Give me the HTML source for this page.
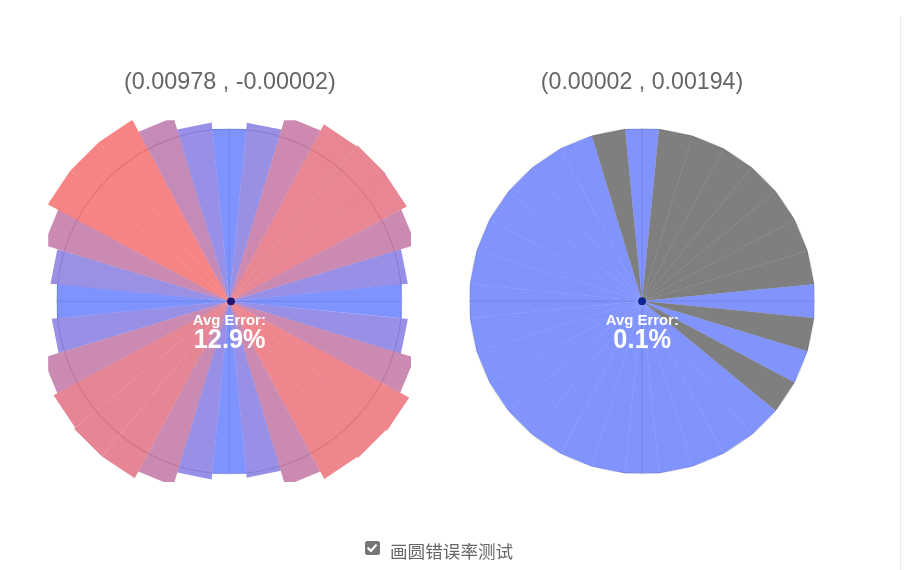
<!DOCTYPE html>
<html><head><meta charset="utf-8"><title>画圆错误率测试</title>
<style>
html,body{margin:0;padding:0;background:#fff;overflow:hidden}
body{width:906px;height:570px;position:relative;font-family:"Liberation Sans","Noto Sans CJK SC",sans-serif}
svg{position:absolute;left:0;top:0}
.t{font-family:"Liberation Sans",sans-serif;fill:#666}
.w{font-family:"Liberation Sans",sans-serif;fill:#fff;font-weight:bold}
.vline{position:absolute;left:900px;top:16px;width:1px;height:554px;background:#e9e9e9}
.cb{position:absolute;left:365.4px;top:541px;width:14.4px;height:14.4px;border-radius:2.5px;background:#757575}
.lbl{position:absolute;left:390px;top:538.5px;font-size:17.6px;line-height:26px;color:#666;white-space:nowrap;font-family:"Liberation Sans","Noto Sans CJK SC",sans-serif}
</style></head><body>
<svg width="906" height="570" viewBox="0 0 906 570">
<defs></defs>
<clipPath id="c1"><rect x="48.20" y="120.20" width="362.80" height="361.80"/></clipPath>
<g clip-path="url(#c1)">
<circle cx="229.30" cy="301.30" r="172.50" fill="none" stroke="#000" stroke-opacity="0.14" stroke-width="1.2"/>
<polygon points="229.30,301.30 212.32,128.93 246.28,128.93" fill="rgb(0,40,255)" fill-opacity="0.5"/>
<polygon points="229.30,301.30 246.88,122.76 281.38,129.62" fill="rgb(50,34,204)" fill-opacity="0.5"/>
<polygon points="229.30,301.30 285.50,116.04 320.56,130.56" fill="rgb(156,20,96)" fill-opacity="0.5"/>
<polygon points="229.30,301.30 323.91,124.30 356.62,146.16" fill="rgb(209,14,42)" fill-opacity="0.5"/>
<polygon points="229.30,301.30 357.45,145.15 385.45,173.15" fill="rgb(209,14,42)" fill-opacity="0.5"/>
<polygon points="229.30,301.30 384.91,173.60 406.83,206.41" fill="rgb(209,14,42)" fill-opacity="0.5"/>
<polygon points="229.30,301.30 401.27,209.38 415.90,244.69" fill="rgb(151,21,101)" fill-opacity="0.5"/>
<polygon points="229.30,301.30 400.98,249.22 407.84,283.72" fill="rgb(48,34,206)" fill-opacity="0.5"/>
<polygon points="229.30,301.30 401.67,284.32 401.67,318.28" fill="rgb(0,40,255)" fill-opacity="0.5"/>
<polygon points="229.30,301.30 407.84,318.88 400.98,353.38" fill="rgb(48,34,206)" fill-opacity="0.5"/>
<polygon points="229.30,301.30 414.76,357.56 400.22,392.66" fill="rgb(151,21,101)" fill-opacity="0.5"/>
<polygon points="229.30,301.30 409.21,397.46 386.99,430.72" fill="rgb(223,12,27)" fill-opacity="0.5"/>
<polygon points="229.30,301.30 386.07,429.95 357.95,458.07" fill="rgb(223,12,27)" fill-opacity="0.5"/>
<polygon points="229.30,301.30 357.13,457.06 324.29,479.01" fill="rgb(223,12,27)" fill-opacity="0.5"/>
<polygon points="229.30,301.30 320.28,471.51 285.32,485.99" fill="rgb(151,21,101)" fill-opacity="0.5"/>
<polygon points="229.30,301.30 280.74,470.87 246.67,477.65" fill="rgb(48,34,206)" fill-opacity="0.5"/>
<polygon points="229.30,301.30 246.28,473.67 212.32,473.67" fill="rgb(0,40,255)" fill-opacity="0.5"/>
<polygon points="229.30,301.30 211.75,479.44 177.34,472.59" fill="rgb(48,34,206)" fill-opacity="0.5"/>
<polygon points="229.30,301.30 173.28,485.99 138.32,471.51" fill="rgb(151,21,101)" fill-opacity="0.5"/>
<polygon points="229.30,301.30 134.69,478.30 101.98,456.44" fill="rgb(206,14,44)" fill-opacity="0.5"/>
<polygon points="229.30,301.30 101.91,456.52 74.08,428.69" fill="rgb(206,14,44)" fill-opacity="0.5"/>
<polygon points="229.30,301.30 75.24,427.73 53.53,395.25" fill="rgb(206,14,44)" fill-opacity="0.5"/>
<polygon points="229.30,301.30 57.33,393.22 42.70,357.91" fill="rgb(151,21,101)" fill-opacity="0.5"/>
<polygon points="229.30,301.30 58.58,353.09 51.76,318.79" fill="rgb(48,34,206)" fill-opacity="0.5"/>
<polygon points="229.30,301.30 56.93,318.28 56.93,284.32" fill="rgb(0,40,255)" fill-opacity="0.5"/>
<polygon points="229.30,301.30 50.47,283.69 57.34,249.14" fill="rgb(53,33,201)" fill-opacity="0.5"/>
<polygon points="229.30,301.30 43.65,244.98 58.21,209.85" fill="rgb(151,21,101)" fill-opacity="0.5"/>
<polygon points="229.30,301.30 47.80,204.29 70.21,170.74" fill="rgb(240,10,10)" fill-opacity="0.5"/>
<polygon points="229.30,301.30 70.21,170.74 98.74,142.21" fill="rgb(240,10,10)" fill-opacity="0.5"/>
<polygon points="229.30,301.30 98.74,142.21 132.29,119.80" fill="rgb(240,10,10)" fill-opacity="0.5"/>
<polygon points="229.30,301.30 138.65,131.71 173.48,117.28" fill="rgb(139,23,113)" fill-opacity="0.5"/>
<polygon points="229.30,301.30 177.16,129.43 211.70,122.56" fill="rgb(48,34,206)" fill-opacity="0.5"/>
<line x1="56.30" y1="301.30" x2="402.30" y2="301.30" stroke="#000" stroke-opacity="0.1" stroke-width="1"/>
<line x1="229.30" y1="128.30" x2="229.30" y2="474.30" stroke="#000" stroke-opacity="0.1" stroke-width="1"/>
<circle cx="231.00" cy="301.30" r="3.9" fill="rgb(18,8,95)" fill-opacity="0.9"/>
</g>
<clipPath id="c2"><rect x="460.95" y="120.20" width="362.80" height="361.80"/></clipPath>
<g clip-path="url(#c2)">
<circle cx="642.05" cy="301.10" r="172.50" fill="none" stroke="#000" stroke-opacity="0.14" stroke-width="1.2"/>
<polygon points="642.05,301.10 625.10,129.03 659.00,129.03" fill="rgb(3,40,252)" fill-opacity="0.5"/>
<polygon points="642.05,301.10 659.00,129.03 692.24,135.65" fill="rgb(0,0,0)" fill-opacity="0.5"/>
<polygon points="642.05,301.10 692.24,135.65 723.55,148.62" fill="rgb(0,0,0)" fill-opacity="0.5"/>
<polygon points="642.05,301.10 723.55,148.62 751.74,167.45" fill="rgb(0,0,0)" fill-opacity="0.5"/>
<polygon points="642.05,301.10 751.74,167.45 775.70,191.41" fill="rgb(0,0,0)" fill-opacity="0.5"/>
<polygon points="642.05,301.10 775.70,191.41 794.53,219.60" fill="rgb(0,0,0)" fill-opacity="0.5"/>
<polygon points="642.05,301.10 794.53,219.60 807.50,250.91" fill="rgb(0,0,0)" fill-opacity="0.5"/>
<polygon points="642.05,301.10 807.50,250.91 814.12,284.15" fill="rgb(0,0,0)" fill-opacity="0.5"/>
<polygon points="642.05,301.10 814.12,284.15 814.12,318.05" fill="rgb(3,40,252)" fill-opacity="0.5"/>
<polygon points="642.05,301.10 814.12,318.05 807.50,351.29" fill="rgb(0,0,0)" fill-opacity="0.5"/>
<polygon points="642.05,301.10 807.50,351.29 794.53,382.60" fill="rgb(3,40,252)" fill-opacity="0.5"/>
<polygon points="642.05,301.10 794.53,382.60 775.70,410.79" fill="rgb(0,0,0)" fill-opacity="0.5"/>
<polygon points="642.05,301.10 775.70,410.79 751.74,434.75" fill="rgb(3,40,252)" fill-opacity="0.5"/>
<polygon points="642.05,301.10 751.74,434.75 723.55,453.58" fill="rgb(3,40,252)" fill-opacity="0.5"/>
<polygon points="642.05,301.10 723.55,453.58 692.24,466.55" fill="rgb(3,40,252)" fill-opacity="0.5"/>
<polygon points="642.05,301.10 692.24,466.55 659.00,473.17" fill="rgb(3,40,252)" fill-opacity="0.5"/>
<polygon points="642.05,301.10 659.00,473.17 625.10,473.17" fill="rgb(3,40,252)" fill-opacity="0.5"/>
<polygon points="642.05,301.10 625.10,473.17 591.86,466.55" fill="rgb(3,40,252)" fill-opacity="0.5"/>
<polygon points="642.05,301.10 591.86,466.55 560.55,453.58" fill="rgb(3,40,252)" fill-opacity="0.5"/>
<polygon points="642.05,301.10 560.55,453.58 532.36,434.75" fill="rgb(3,40,252)" fill-opacity="0.5"/>
<polygon points="642.05,301.10 532.36,434.75 508.40,410.79" fill="rgb(3,40,252)" fill-opacity="0.5"/>
<polygon points="642.05,301.10 508.40,410.79 489.57,382.60" fill="rgb(3,40,252)" fill-opacity="0.5"/>
<polygon points="642.05,301.10 489.57,382.60 476.60,351.29" fill="rgb(3,40,252)" fill-opacity="0.5"/>
<polygon points="642.05,301.10 476.60,351.29 469.98,318.05" fill="rgb(3,40,252)" fill-opacity="0.5"/>
<polygon points="642.05,301.10 469.98,318.05 469.98,284.15" fill="rgb(3,40,252)" fill-opacity="0.5"/>
<polygon points="642.05,301.10 469.98,284.15 476.60,250.91" fill="rgb(3,40,252)" fill-opacity="0.5"/>
<polygon points="642.05,301.10 476.60,250.91 489.57,219.60" fill="rgb(3,40,252)" fill-opacity="0.5"/>
<polygon points="642.05,301.10 489.57,219.60 508.40,191.41" fill="rgb(3,40,252)" fill-opacity="0.5"/>
<polygon points="642.05,301.10 508.40,191.41 532.36,167.45" fill="rgb(3,40,252)" fill-opacity="0.5"/>
<polygon points="642.05,301.10 532.36,167.45 560.55,148.62" fill="rgb(3,40,252)" fill-opacity="0.5"/>
<polygon points="642.05,301.10 560.55,148.62 591.86,135.65" fill="rgb(3,40,252)" fill-opacity="0.5"/>
<polygon points="642.05,301.10 591.86,135.65 625.10,129.03" fill="rgb(0,0,0)" fill-opacity="0.5"/>
<line x1="469.05" y1="301.10" x2="815.05" y2="301.10" stroke="#000" stroke-opacity="0.1" stroke-width="1"/>
<line x1="642.05" y1="128.10" x2="642.05" y2="474.10" stroke="#000" stroke-opacity="0.1" stroke-width="1"/>
<circle cx="642.10" cy="301.20" r="3.9" fill="rgb(0,25,140)" fill-opacity="0.9"/>
</g>
<text class="t" x="229.9" y="88.9" font-size="23.4" text-anchor="middle">(0.00978 , -0.00002)</text>
<text class="t" x="642" y="88.9" font-size="23.2" text-anchor="middle">(0.00002 , 0.00194)</text>
<text class="w" x="229.3" y="324.6" font-size="14.9" text-anchor="middle">Avg Error:</text>
<text class="w" x="229.6" y="348.1" font-size="28" text-anchor="middle" textLength="71.6" lengthAdjust="spacingAndGlyphs">12.9%</text>
<text class="w" x="642.3" y="324.6" font-size="14.9" text-anchor="middle">Avg Error:</text>
<text class="w" x="642.2" y="348.3" font-size="28" text-anchor="middle" textLength="57.9" lengthAdjust="spacingAndGlyphs">0.1%</text>
</svg>
<div class="vline"></div>
<div class="cb"><svg width="14" height="14" viewBox="0 0 14 14" style="position:absolute;left:0;top:0"><path d="M3.2 7.2 L5.9 9.9 L10.9 4.3" fill="none" stroke="#fff" stroke-width="2.2" stroke-linecap="round" stroke-linejoin="round"/></svg></div>
<div class="lbl">画圆错误率测试</div>
</body></html>
